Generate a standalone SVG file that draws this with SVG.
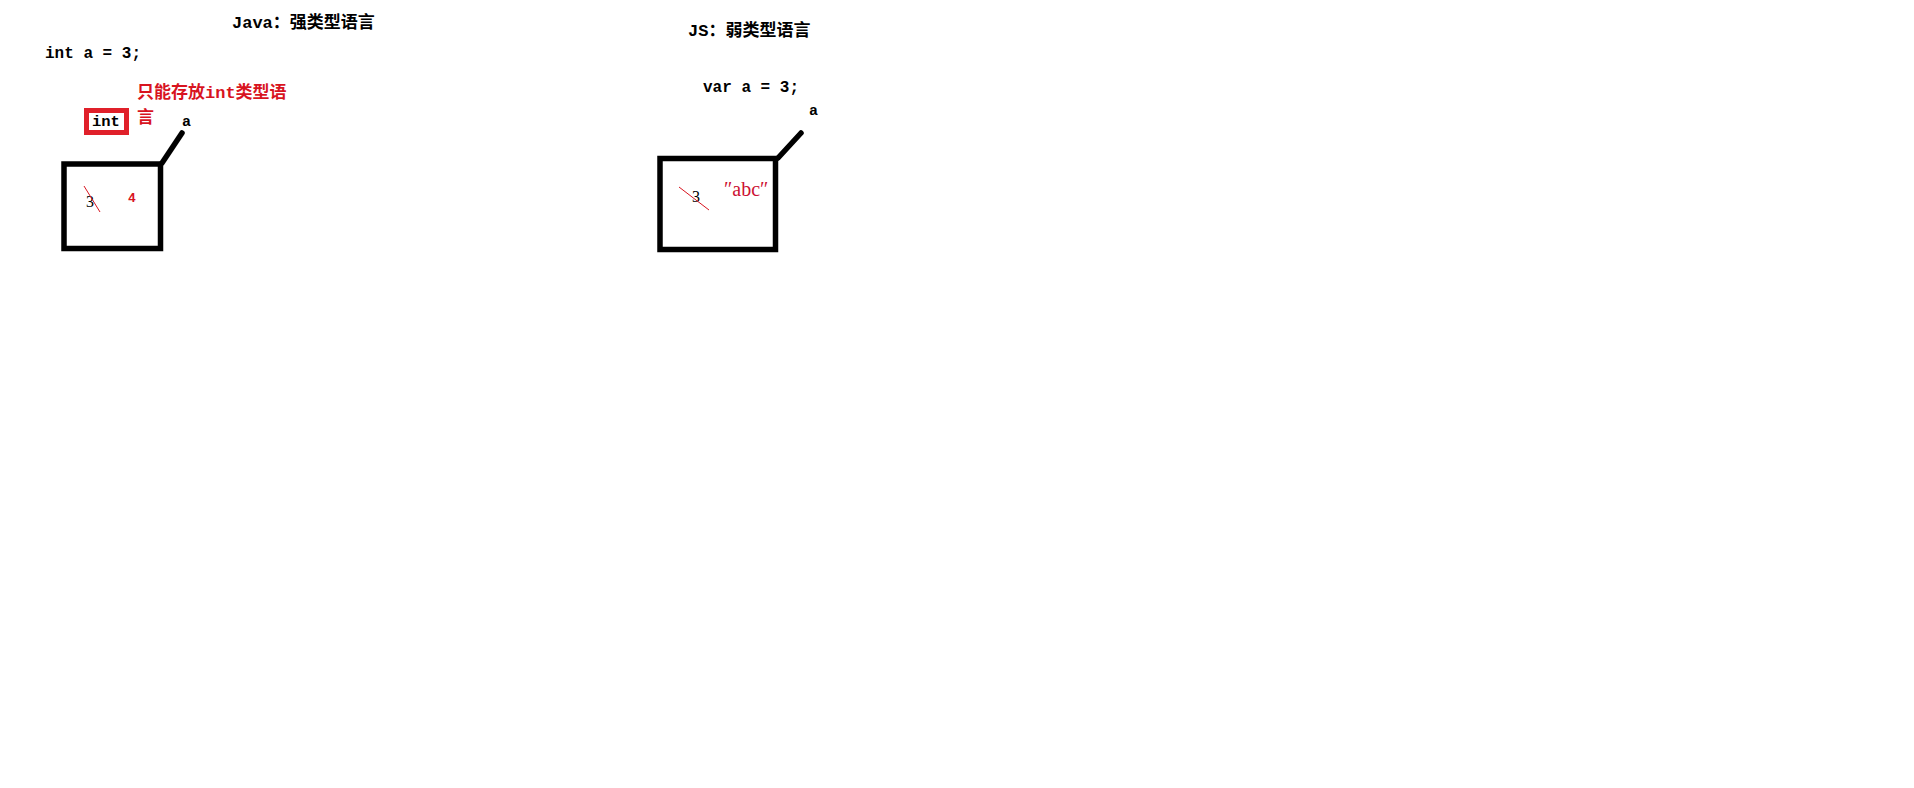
<svg xmlns="http://www.w3.org/2000/svg" width="1914" height="788" viewBox="0 0 1914 788">
<style>
.t{font-family:"Liberation Mono","Noto Sans CJK SC",monospace;font-weight:bold;fill:#000}
.r{fill:#d8141f}
.box{fill:none;stroke:#000;stroke-width:5.5}
.lead{stroke:#000;stroke-width:5.5;stroke-linecap:round}
.slash{stroke:#d8141f;stroke-width:1}
.num{font-family:"Liberation Serif",serif;font-size:16px;fill:#000}
</style>
<rect width="1914" height="788" fill="#fff"/>
<g id="java-title"><text class="t" x="232" y="28" font-size="17">Java：强类型语言</text></g>
<g id="java-code"><text class="t" x="45" y="58" font-size="16">int a = 3;</text></g>
<g id="java-note"><text class="t r" x="137" y="98" font-size="17">只能存放int类型语</text><text class="t r" x="137" y="123" font-size="17">言</text></g>
<g id="int-label"><rect x="86.5" y="110.5" width="40" height="22" fill="none" stroke="#e0202a" stroke-width="5"/><text class="t" x="92" y="126" font-size="15.5">int</text></g>
<g id="java-var-a"><text class="t" x="182" y="126" font-size="15">a</text></g>
<g id="java-box"><rect class="box" x="64" y="164" width="96.5" height="84.5"/><text class="num" x="86" y="207">3</text><line class="slash" x1="84" y1="186" x2="100" y2="212"/><text class="t r" x="128" y="202" font-size="13">4</text></g>
<g id="js-title"><text class="t" x="688" y="36" font-size="17">JS：弱类型语言</text></g>
<g id="js-code"><text class="t" x="703" y="92" font-size="16">var a = 3;</text></g>
<g id="js-var-a"><text class="t" x="809" y="115" font-size="15">a</text></g>
<g id="js-box"><rect class="box" x="660" y="158.5" width="115.5" height="91"/><text class="num" x="692" y="202">3</text><line class="slash" x1="679" y1="187" x2="709" y2="210"/><text x="724" y="196" font-family="Liberation Serif,serif" font-size="20" fill="#cc1133">″abc″</text></g>
<g id="connectors"><line class="lead" x1="182" y1="133" x2="162" y2="163"/><line class="lead" x1="801" y1="133" x2="778" y2="158"/></g>
</svg>
